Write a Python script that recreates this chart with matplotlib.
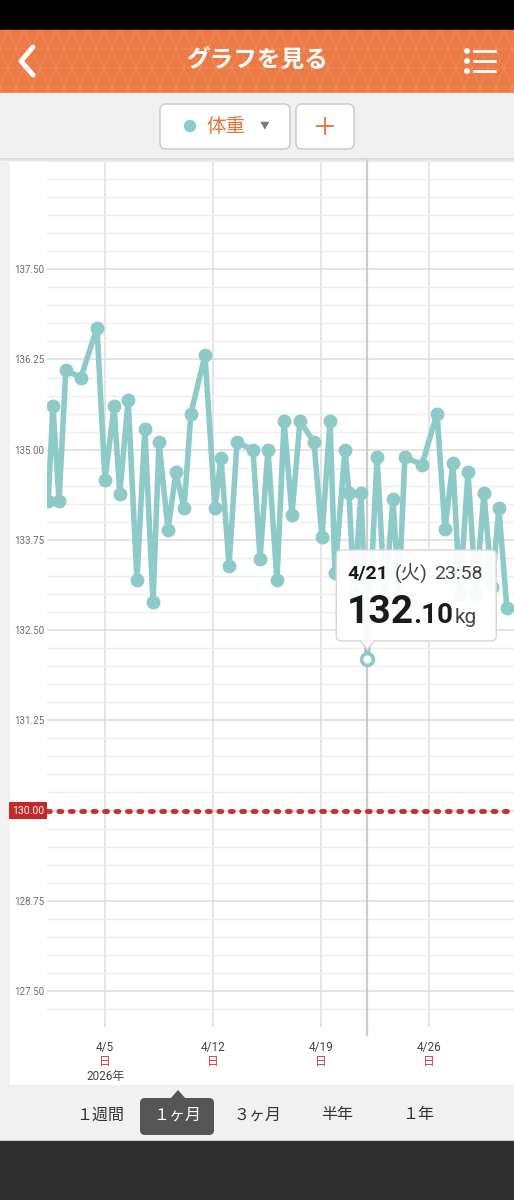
import matplotlib
import matplotlib.pyplot as plt
import matplotlib.dates as mdates
from matplotlib.patches import FancyBboxPatch, Rectangle, Polygon, Circle
from matplotlib.ticker import MultipleLocator
import pandas as pd

matplotlib.use('agg')
plt.rcParams['font.family'] = ['Roboto', 'Noto Sans CJK JP', 'DejaVu Sans']

# 体重の記録 (2026年4月)
times = [
    '04-01 07:30', '04-01 15:00', '04-02 00:30', '04-02 11:00', '04-03 10:30',
    '04-04 11:30', '04-05 00:00', '04-05 14:00', '04-05 23:00', '04-06 12:00',
    '04-07 01:40', '04-07 14:00', '04-08 02:40', '04-08 12:00', '04-09 02:00',
    '04-09 14:20', '04-10 03:00', '04-10 13:40', '04-11 11:30', '04-12 03:00',
    '04-12 12:30', '04-13 01:00', '04-13 13:20', '04-14 14:10', '04-15 01:10',
    '04-15 13:30', '04-16 03:30', '04-16 14:30', '04-17 02:50', '04-17 15:20',
    '04-18 13:10', '04-19 01:30', '04-19 14:00', '04-19 21:50', '04-20 13:20',
    '04-20 19:30', '04-21 03:20', '04-21 14:10', '04-21 23:58', '04-22 15:10',
    '04-23 03:30', '04-23 16:00', '04-24 01:10', '04-24 10:30', '04-25 13:00',
    '04-26 12:30', '04-27 00:50', '04-27 13:10', '04-28 00:00', '04-28 12:40',
    '04-29 01:00', '04-29 13:30', '04-30 02:00', '04-30 12:40', '05-01 01:10',
]
weights = [
    134.29, 135.60, 134.29, 136.10, 136.00,
    136.69, 134.58, 135.60, 134.39, 135.69,
    133.19, 135.29, 132.89, 135.10, 133.89,
    134.69, 134.19, 135.50, 136.31, 134.19,
    134.89, 133.39, 135.10, 135.00, 133.49,
    135.00, 133.19, 135.40, 134.10, 135.40,
    135.10, 133.79, 135.40, 133.29, 135.00,
    134.40, 133.00, 134.40, 132.10, 134.90,
    132.90, 134.31, 133.00, 134.90, 134.79,
    135.50, 133.90, 134.81, 133.00, 134.69,
    133.00, 134.40, 133.10, 134.19, 132.81,
]
selected = 38          # 4/21 23:58
goal = 130.00
y_ticks = [127.50, 128.75, 130.00, 131.25, 132.50, 133.75, 135.00, 136.25, 137.50]
x_ticks = ['04-05', '04-12', '04-19', '04-26']
x_tick_labels = ['4/5', '4/12', '4/19', '4/26']
weekdays = ['日', '日', '日', '日']
tabs = ['１週間', '１ヶ月', '３ヶ月', '半年', '１年']
tab_x = [100, 177, 258, 337, 418]

teal = '#8ecbc8'
orange = '#ec7a45'
red = '#c8302a'

dates = pd.to_datetime(['2026-' + t for t in times])
tick_dates = pd.to_datetime(['2026-' + t for t in x_ticks])

W, H = 514, 1200
fig = plt.figure(figsize=(W / 100, H / 100), dpi=100)

# 背景 (ピクセル座標)
bg = fig.add_axes([0, 0, 1, 1], zorder=0)
bg.set_xlim(0, W)
bg.set_ylim(H, 0)
bg.axis('off')

bg.add_patch(Rectangle((0, 0), W, 30, color='black'))
bg.add_patch(Rectangle((0, 30), W, 63, color=orange))
# 三角模様
for row in range(4):
    y0 = 30 + row * 19
    off = 0 if row % 2 == 0 else 8
    for k in range(-1, 36):
        x0 = k * 16 + off
        bg.add_patch(Polygon([(x0, y0 + 19), (x0 + 8, y0), (x0 + 16, y0 + 19)],
                             closed=True, fc='none', ec='white', lw=0.6, alpha=0.14))
bg.add_patch(Rectangle((0, 93), W, 67, color='#f1f1f1'))
for i, a in enumerate([0.10, 0.07, 0.04, 0.02]):
    bg.add_patch(Rectangle((0, 158 + i), W, 1, color='black', alpha=a, lw=0))
bg.add_patch(Rectangle((0, 162), W, 923, color='#f1f1f1'))
bg.add_patch(Rectangle((10, 162), W - 10, 923, color='white'))
bg.add_patch(Rectangle((0, 1085), W, 56, color='#f1f1f1'))
bg.add_patch(Rectangle((0, 1141), W, 59, color='#303030'))

# ヘッダー
bg.plot([33, 21, 33], [47, 61, 75], color='white', lw=3.5, solid_capstyle='round',
        solid_joinstyle='round')
bg.text(257, 61, 'グラフを見る', color='white', fontsize=17, fontweight='bold',
        ha='center', va='center', family=['Noto Sans CJK JP'])
for yy in [51, 61, 71]:
    bg.add_patch(Circle((467, yy), 2.2, color='white'))
    bg.plot([474, 495], [yy, yy], color='white', lw=2)

# 項目選択ボタン
bg.add_patch(FancyBboxPatch((160, 104), 130, 45, boxstyle='round,pad=0,rounding_size=6',
                            fc='white', ec='#c8c8c8', lw=1))
bg.add_patch(FancyBboxPatch((296, 104), 58, 45, boxstyle='round,pad=0,rounding_size=6',
                            fc='white', ec='#c8c8c8', lw=1))
bg.add_patch(Circle((190, 126), 5.5, color=teal))
bg.text(226, 126, '体重', color='#e8703a', fontsize=14, ha='center', va='center',
        family=['Noto Sans CJK JP'])
bg.text(265, 125, '▼', color='#7a7a7a', fontsize=7, ha='center', va='center',
        family=['Noto Sans CJK JP'])
bg.plot([317, 333], [126, 126], color='#e8703a', lw=1.3)
bg.plot([325, 325], [118, 134], color='#e8703a', lw=1.3)

# 期間タブ
bg.add_patch(FancyBboxPatch((140, 1098), 74, 37, boxstyle='round,pad=0,rounding_size=5',
                            fc='#555555', ec='none'))
bg.add_patch(Polygon([(170, 1099), (178, 1090), (186, 1099)], closed=True, fc='#555555', ec='none'))
for i, (lab, tx) in enumerate(zip(tabs, tab_x)):
    bg.text(tx, 1115, lab, color='white' if i == 1 else '#333333', fontsize=11.5,
            ha='center', va='center', family=['Noto Sans CJK JP'])

# グラフ
ax = fig.add_axes([47 / W, (H - 1027) / H, 467 / W, 866 / H], zorder=1)
ax.set_facecolor('none')
for s in ax.spines.values():
    s.set_visible(False)
ax.set_xlim(pd.Timestamp('2026-04-01 05:45'), pd.Timestamp('2026-05-01 12:15'))
ax.set_ylim(127.0, 139.0)

ax.set_yticks(y_ticks)
ax.set_yticklabels(['' if v == goal else f'{v:.2f}' for v in y_ticks])
ax.yaxis.set_minor_locator(MultipleLocator(0.25))
ax.set_xticks(tick_dates)
ax.set_xticklabels([])
ax.tick_params(axis='both', which='both', length=0)
ax.tick_params(axis='y', labelsize=7, labelcolor='#6b6b6b', pad=2.2)
ax.yaxis.grid(True, which='major', color='#dcdcdc', lw=1.1)
ax.yaxis.grid(True, which='minor', color='#eeeeee', lw=1.0)
ax.xaxis.grid(True, which='major', color='#dedede', lw=1.1)
ax.set_axisbelow(True)

xt = ax.get_xaxis_transform()
for d, lab, wd in zip(tick_dates, x_tick_labels, weekdays):
    ax.text(d, -0.0231, lab, transform=xt, ha='center', va='center', fontsize=8.5,
            color='#444444', clip_on=False)
    ax.text(d, -0.0404, wd, transform=xt, ha='center', va='center', fontsize=8.5,
            color='#d03a3a', clip_on=False, family=['Noto Sans CJK JP'])
ax.text(tick_dates[0], -0.0577, '2026年', transform=xt, ha='center', va='center',
        fontsize=8.5, color='#444444', clip_on=False)

sel_date = dates[selected]
sel_w = weights[selected]
ax.axvline(sel_date, ymin=-0.0095, ymax=1, color='#cccccc', lw=1.6, clip_on=False, zorder=1)

ax.axhline(goal, color=red, lw=3.5, linestyle=(0, (0.6, 1.75)), dash_capstyle='round', zorder=2)
ax.annotate(f'{goal:.2f}', xy=(0, goal), xycoords=('axes fraction', 'data'),
            xytext=(-3, 0), textcoords='offset pixels', ha='right', va='center',
            color='white', fontsize=7.5, annotation_clip=False,
            bbox=dict(boxstyle='square,pad=0.3', fc='#c62828', ec='none'))

ax.plot(dates, weights, color=teal, lw=4, marker='o', ms=9, zorder=3,
        solid_joinstyle='round')
ax.plot([sel_date], [sel_w], 'o', mfc='white', mec=teal, ms=8.5, mew=2.6, zorder=6,
        clip_on=False)

# 吹き出し
top = fig.add_axes([0, 0, 1, 1], zorder=5)
top.set_xlim(0, W)
top.set_ylim(H, 0)
top.axis('off')

px, py = ax.transData.transform((mdates.date2num(sel_date), sel_w))
py = H - py
bx0, by0, bw, bh = px - 31, py - 109, 160, 91
top.add_patch(FancyBboxPatch((bx0, by0), bw, bh, boxstyle='round,pad=0,rounding_size=5',
                             fc=(1, 1, 1, 0.94), ec='#d6d6d6', lw=1))
top.add_patch(Polygon([(px - 7, by0 + bh - 0.5), (px, py - 9), (px + 7, by0 + bh - 0.5)],
                      closed=True, fc=(1, 1, 1, 0.94), ec='none'))
top.plot([px - 7, px, px + 7], [by0 + bh, py - 9, by0 + bh], color='#d6d6d6', lw=1)

renderer = fig.canvas.get_renderer()


def chain(x, y, parts):
    for s, size, weight, color, gap in parts:
        t = top.text(x, y, s, fontsize=size, fontweight=weight, color=color,
                     ha='left', va='baseline')
        x += t.get_window_extent(renderer).width + gap


chain(bx0 + 11, by0 + 29, [('4/21', 14, 'bold', '#1a1a1a', 7),
                            ('(火)', 14, 'normal', '#444444', 6),
                            ('23:58', 14, 'normal', '#444444', 0)])
whole, frac = f'{sel_w:.2f}'.split('.')
chain(bx0 + 10, by0 + 73, [(whole, 28, 'bold', '#1a1a1a', 0),
                            ('.' + frac, 20, 'bold', '#1a1a1a', 1),
                            ('kg', 15, 'normal', '#444444', 0)])

fig.savefig('out.png', dpi=100)
